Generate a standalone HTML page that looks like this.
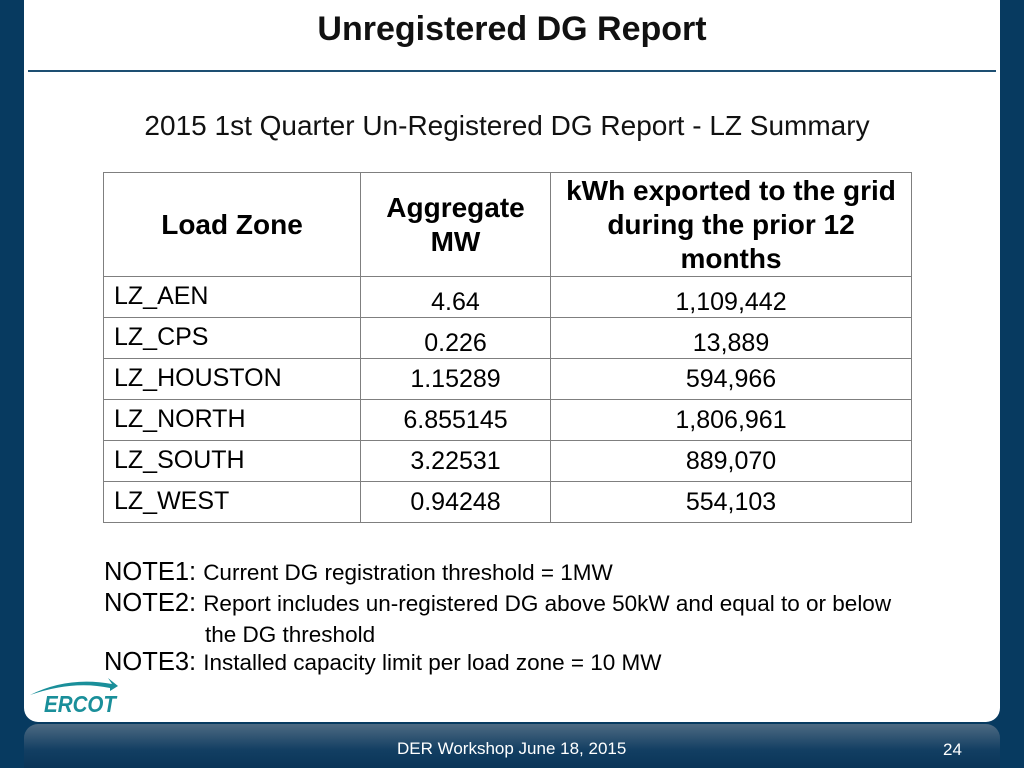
<!DOCTYPE html>
<html><head><meta charset="utf-8"><style>
body{margin:0;width:1024px;height:768px;background:#073a60;position:relative;overflow:hidden;font-family:"Liberation Sans",sans-serif;}
#panel{position:absolute;left:24px;top:0;width:976px;height:722px;background:#fff;border-radius:0 0 14px 14px;}
#footer{position:absolute;left:24px;top:724px;width:976px;height:44px;background:linear-gradient(#4d6a82,#123e62 60%,#0a3558);border-radius:14px 14px 0 0;}
.abs{position:absolute;}
table{position:absolute;left:103px;top:172px;border-collapse:collapse;font-size:25px;color:#000;table-layout:fixed;}
td{border:1px solid #7f7f7f;padding:0;height:41px;line-height:26px;box-sizing:border-box;white-space:nowrap;}
td.n{text-align:center;}
td.l{padding-left:10px;vertical-align:top;padding-top:6px;}
tr.lo td.n{vertical-align:bottom;padding-bottom:2px;}
th{border:1px solid #7f7f7f;font-weight:bold;font-size:28px;height:103px;line-height:34px;padding:0;white-space:nowrap;}
.note{font-size:25.5px;}
.note small{font-size:22.5px;}
</style></head><body>
<div id="panel"></div>
<div class="abs" style="left:0;width:1024px;top:10px;text-align:center;font-size:34px;font-weight:bold;color:#111;">Unregistered DG Report</div>
<div class="abs" style="left:28px;top:70px;width:968px;height:2px;background:#1d4f72;"></div>
<div class="abs" style="left:0;width:1014px;top:110px;text-align:center;font-size:28px;color:#111;">2015 1st Quarter Un-Registered DG Report - LZ Summary</div>
<table>
<colgroup><col style="width:257px"><col style="width:190px"><col style="width:361px"></colgroup>
<tr><th>Load Zone</th><th>Aggregate<br>MW</th><th>kWh exported to the grid<br>during the prior 12<br>months</th></tr>
<tr class="lo"><td class="l">LZ_AEN</td><td class="n">4.64</td><td class="n">1,109,442</td></tr>
<tr class="lo"><td class="l">LZ_CPS</td><td class="n">0.226</td><td class="n">13,889</td></tr>
<tr><td class="l">LZ_HOUSTON</td><td class="n">1.15289</td><td class="n">594,966</td></tr>
<tr><td class="l">LZ_NORTH</td><td class="n">6.855145</td><td class="n">1,806,961</td></tr>
<tr><td class="l">LZ_SOUTH</td><td class="n">3.22531</td><td class="n">889,070</td></tr>
<tr><td class="l">LZ_WEST</td><td class="n">0.94248</td><td class="n">554,103</td></tr>
</table>
<div class="abs note" style="left:104px;top:558px;">NOTE1: <small>Current DG registration threshold = 1MW</small></div>
<div class="abs note" style="left:104px;top:588px;line-height:30px;">NOTE2: <small>Report includes un-registered DG above 50kW and equal to or below</small><br><small style="padding-left:101px">the DG threshold</small></div>
<div class="abs note" style="left:104px;top:648px;">NOTE3: <small>Installed capacity limit per load zone = 10 MW</small></div>
<svg class="abs" style="left:28px;top:676px" width="92" height="40">
<path d="M2 19 Q40 0 84 8 L80 2 L90 10 L82 15 L82 12 Q45 4 2 19Z" fill="#1a8f9a"/>
<text x="16" y="36" font-family="Liberation Sans" font-weight="bold" font-style="italic" font-size="23" fill="#1a8f9a" textLength="72" lengthAdjust="spacingAndGlyphs">ERCOT</text>
</svg>
<div id="footer"></div>
<div class="abs" style="left:397px;top:739px;font-size:17px;color:#fff;">DER Workshop June 18, 2015</div>
<div class="abs" style="left:943px;top:740px;font-size:17px;color:#fff;">24</div>
</body></html>
